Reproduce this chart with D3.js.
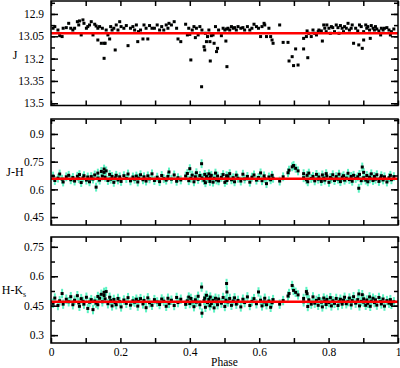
<!DOCTYPE html>
<html><head><meta charset="utf-8">
<script src="https://cdn.jsdelivr.net/npm/d3@7"></script>
<style>
body{margin:0;background:#fff;}
svg text{font-family:"Liberation Serif","DejaVu Serif",serif;}
</style></head>
<body><svg id="c" width="400" height="368"></svg>
<script>
const phase = [
0.006,0.011,0.020,0.025,0.032,0.035,0.044,0.051,0.057,0.063,
0.068,0.076,0.080,0.082,0.087,0.092,0.095,0.102,0.106,0.111,
0.116,0.121,0.126,0.130,0.135,0.135,0.140,0.145,0.148,0.153,
0.153,0.156,0.159,0.164,0.169,0.172,0.176,0.181,0.185,0.188,
0.193,0.198,0.202,0.210,0.217,0.222,0.229,0.236,0.241,0.246,
0.250,0.252,0.258,0.265,0.268,0.274,0.279,0.284,0.291,0.298,
0.306,0.313,0.319,0.325,0.332,0.337,0.340,0.347,0.355,0.362,
0.366,0.374,0.388,0.393,0.397,0.400,0.403,0.407,0.412,0.416,
0.419,0.424,0.429,0.434,0.435,0.441,0.443,0.445,0.448,0.451,
0.455,0.458,0.459,0.462,0.467,0.470,0.474,0.477,0.480,0.483,
0.491,0.496,0.501,0.504,0.506,0.507,0.510,0.515,0.520,0.525,
0.529,0.534,0.539,0.547,0.553,0.558,0.566,0.573,0.579,0.585,
0.592,0.598,0.604,0.608,0.614,0.616,0.621,0.628,0.633,0.637,
0.640,0.659,0.669,0.683,0.686,0.695,0.699,0.705,0.712,0.728,
0.728,0.736,0.738,0.740,0.743,0.750,0.755,0.760,0.765,0.770,
0.772,0.779,0.782,0.786,0.789,0.793,0.795,0.801,0.805,0.808,
0.812,0.817,0.822,0.827,0.830,0.834,0.839,0.843,0.846,0.851,
0.856,0.860,0.865,0.868,0.872,0.878,0.884,0.887,0.889,0.894,
0.897,0.901,0.901,0.907,0.910,0.913,0.918,0.920,0.923,0.928,
0.932,0.935,0.939,0.945,0.950,0.952,0.957,0.961,0.968,0.974,
0.978,0.981,0.988];

const jMag = [
12.996,12.985,13.008,13.046,13.052,12.996,12.992,12.963,12.996,13.008,
12.996,12.952,12.974,12.947,13.041,12.940,12.963,12.996,12.985,12.974,
12.952,13.041,12.969,12.981,12.996,13.075,12.985,13.097,12.996,13.097,
13.198,13.097,13.008,13.041,13.068,12.985,13.008,12.996,13.142,12.974,
13.008,12.952,12.985,12.996,12.978,13.113,12.996,12.985,13.008,12.974,
13.086,13.019,13.008,13.068,12.974,12.996,13.068,12.978,12.996,12.996,
12.974,13.008,12.985,13.008,12.974,12.996,12.963,12.974,12.952,12.996,
13.068,13.086,12.969,13.041,12.996,13.037,13.209,13.008,12.985,13.059,
12.996,13.041,12.985,13.389,13.008,13.120,13.142,13.030,13.086,13.052,
13.008,13.086,13.216,13.046,13.041,13.097,12.985,13.153,13.131,13.008,
13.046,12.996,13.008,13.082,13.001,13.254,12.996,13.008,12.985,12.996,
12.992,13.008,12.985,12.996,12.992,13.008,12.985,13.008,12.996,12.969,
12.985,12.996,13.052,12.985,12.963,12.974,13.052,12.996,13.052,13.075,
13.097,12.974,13.091,13.091,13.216,13.187,13.247,13.135,13.243,13.135,
13.064,13.052,13.014,13.194,13.030,13.052,13.008,13.030,13.041,13.019,
13.008,13.014,13.082,12.974,12.996,13.019,12.974,12.996,13.030,12.985,
12.992,13.019,12.974,12.992,13.030,12.978,12.996,13.019,12.985,12.996,
12.963,13.008,12.996,12.974,13.097,12.996,13.014,13.108,12.974,12.985,
13.131,13.019,13.075,12.974,12.996,12.985,13.008,13.064,12.978,12.996,
13.008,12.985,13.001,13.014,13.041,12.996,13.008,12.996,12.992,13.008,
13.041,13.019,13.001];

const jh = [
0.672,0.648,0.661,0.683,0.655,0.640,0.668,0.676,0.652,0.664,
0.645,0.671,0.658,0.680,0.637,0.662,0.674,0.650,0.667,0.641,
0.669,0.656,0.678,0.612,0.661,0.688,0.650,0.697,0.672,0.710,
0.692,0.666,0.700,0.648,0.681,0.655,0.670,0.638,0.662,0.676,
0.651,0.668,0.643,0.674,0.659,0.683,0.646,0.667,0.655,0.672,
0.640,0.661,0.679,0.652,0.668,0.645,0.673,0.657,0.684,0.648,
0.666,0.642,0.675,0.658,0.650,0.670,0.694,0.655,0.678,0.644,
0.663,0.651,0.672,0.686,0.647,0.712,0.660,0.677,0.641,0.668,
0.690,0.654,0.675,0.739,0.662,0.649,0.681,0.636,0.670,0.658,
0.684,0.643,0.667,0.676,0.639,0.660,0.688,0.651,0.672,0.646,
0.665,0.680,0.638,0.657,0.674,0.648,0.669,0.685,0.652,0.663,
0.641,0.677,0.660,0.645,0.682,0.656,0.670,0.639,0.666,0.678,
0.650,0.664,0.689,0.647,0.673,0.658,0.631,0.667,0.652,0.676,
0.660,0.645,0.668,0.690,0.704,0.722,0.729,0.714,0.700,0.685,
0.663,0.652,0.676,0.641,0.688,0.659,0.670,0.646,0.681,0.655,
0.667,0.643,0.678,0.661,0.650,0.685,0.672,0.638,0.664,0.657,
0.679,0.648,0.669,0.655,0.682,0.642,0.666,0.674,0.650,0.661,
0.687,0.653,0.670,0.644,0.676,0.659,0.668,0.606,0.681,0.647,
0.721,0.663,0.692,0.650,0.675,0.641,0.666,0.657,0.684,0.648,
0.670,0.655,0.679,0.643,0.662,0.674,0.651,0.668,0.640,0.663,
0.676,0.652,0.669];

const hk = [
0.462,0.489,0.451,0.475,0.512,0.458,0.483,0.470,0.496,0.455,
0.478,0.501,0.464,0.447,0.486,0.472,0.458,0.493,0.436,0.468,
0.481,0.430,0.474,0.463,0.497,0.455,0.488,0.508,0.470,0.518,
0.502,0.485,0.522,0.460,0.493,0.476,0.449,0.482,0.466,0.455,
0.487,0.471,0.444,0.479,0.462,0.491,0.453,0.475,0.468,0.483,
0.448,0.472,0.486,0.459,0.477,0.440,0.490,0.465,0.452,0.481,
0.469,0.456,0.484,0.473,0.447,0.488,0.462,0.478,0.451,0.492,
0.466,0.483,0.457,0.475,0.494,0.461,0.487,0.470,0.445,0.480,
0.468,0.498,0.455,0.545,0.412,0.476,0.489,0.442,0.503,0.466,
0.482,0.450,0.494,0.461,0.477,0.439,0.488,0.470,0.455,0.484,
0.463,0.492,0.446,0.478,0.563,0.520,0.469,0.487,0.452,0.474,
0.490,0.458,0.477,0.444,0.483,0.466,0.495,0.451,0.472,0.486,
0.460,0.520,0.478,0.449,0.469,0.488,0.455,0.474,0.442,0.465,
0.481,0.458,0.476,0.499,0.512,0.553,0.528,0.518,0.505,0.487,
0.470,0.522,0.511,0.446,0.480,0.458,0.495,0.463,0.477,0.452,
0.486,0.468,0.444,0.489,0.473,0.456,0.482,0.466,0.491,0.449,
0.475,0.462,0.487,0.451,0.470,0.483,0.458,0.478,0.493,0.460,
0.471,0.489,0.454,0.476,0.496,0.463,0.481,0.510,0.449,0.472,
0.506,0.468,0.485,0.452,0.479,0.462,0.495,0.447,0.473,0.488,
0.466,0.480,0.453,0.492,0.471,0.459,0.484,0.448,0.476,0.463,
0.481,0.457,0.470];

const jMean = 13.03, jhMean = 0.658, hkMean = 0.470;
const errJ = 0.006, errJH = 0.024, errHK = 0.024;
const jTicks = [12.9, 13.05, 13.2, 13.35, 13.5];
const jhTicks = [0.45, 0.6, 0.75, 0.9];
const hkTicks = [0.3, 0.45, 0.6, 0.75];
const xTicks = [0, 0.2, 0.4, 0.6, 0.8, 1];

const svg = d3.select("#c");
const x = d3.scaleLinear().domain([0, 1]).range([51, 398]);

const panels = [
  {vals: jMag, err: errJ, mean: jMean, ticks: jTicks, label: "J",
   y: d3.scaleLinear().domain([12.813, 13.515]).range([1, 105.5]), labelY: 59},
  {vals: jh, err: errJH, mean: jhMean, ticks: jhTicks, label: "J-H",
   y: d3.scaleLinear().domain([0.981, 0.407]).range([119, 225]), labelY: 176},
  {vals: hk, err: errHK, mean: hkMean, ticks: hkTicks, label: "H-K",
   y: d3.scaleLinear().domain([0.80, 0.26]).range([237, 343]), labelY: 294}
];

const xMinor = d3.range(0, 1.0001, 0.1);

panels.forEach((p, i) => {
  const y = p.y;
  const [y0, y1] = y.range();
  const g = svg.append("g");
  const step = p.ticks[1] - p.ticks[0];
  const minor = [];
  const d0 = Math.min(...y.domain()), d1 = Math.max(...y.domain());
  for (let v = p.ticks[0] - step; v <= d1 + 1e-9; v += step / 2) {
    if (v >= d0 && v <= d1) minor.push(+v.toFixed(4));
  }
  g.append("g").selectAll("line").data(phase).join("line")
    .attr("x1", d => x(d)).attr("x2", d => x(d))
    .attr("y1", (d, k) => y(p.vals[k] - p.err)).attr("y2", (d, k) => y(p.vals[k] + p.err))
    .attr("stroke", "#5cf2c2").attr("stroke-width", 2);
  g.append("g").selectAll("rect").data(phase).join("rect")
    .attr("x", d => x(d) - 1.5).attr("y", (d, k) => y(p.vals[k]) - 1.5)
    .attr("width", 3).attr("height", 3).attr("fill", "#000");
  g.append("line").attr("x1", x(0)).attr("x2", x(1))
    .attr("y1", y(p.mean)).attr("y2", y(p.mean))
    .attr("stroke", "#ff0000").attr("stroke-width", 2.5);

  g.append("g").attr("transform", `translate(${x(0)},0)`)
    .call(d3.axisLeft(y).tickValues(minor).tickSize(-4).tickFormat(""));
  g.append("g").attr("transform", `translate(${x(0)},0)`)
    .call(d3.axisLeft(y).tickValues(p.ticks).tickSize(-7).tickPadding(7).tickFormat(d3.format("")));
  g.append("g").attr("transform", `translate(${x(1)},0)`)
    .call(d3.axisRight(y).tickValues(minor).tickSize(-4).tickFormat(""));
  g.append("g").attr("transform", `translate(${x(1)},0)`)
    .call(d3.axisRight(y).tickValues(p.ticks).tickSize(-7).tickFormat(""));
  g.append("g").attr("transform", `translate(0,${y1})`)
    .call(d3.axisBottom(x).tickValues(xMinor).tickSize(-5).tickFormat(""));
  g.append("g").attr("transform", `translate(0,${y0})`)
    .call(d3.axisTop(x).tickValues(xMinor).tickSize(-5).tickFormat(""));
  if (i === 2) {
    g.append("g").attr("transform", `translate(0,${y1})`)
      .call(d3.axisBottom(x).tickValues(xTicks).tickSize(0).tickPadding(5).tickFormat(d3.format("")))
      .call(a => a.select(".domain").remove());
  }
  g.selectAll(".domain").remove();
  g.selectAll(".tick line").attr("stroke", "#000").attr("stroke-width", 1.5);
  g.selectAll(".tick text").attr("font-size", 11.5).attr("fill", "#000")
    .style("font-family", '"Liberation Serif", serif');

  g.append("rect").attr("x", x(0)).attr("y", y0).attr("width", x(1) - x(0)).attr("height", y1 - y0)
    .attr("fill", "none").attr("stroke", "#000").attr("stroke-width", 1.5);

  const t = g.append("text").attr("x", i === 2 ? 14 : 15).attr("y", p.labelY)
    .attr("text-anchor", "middle").attr("font-size", 12).text(p.label);
  if (i === 2) t.append("tspan").attr("font-size", 8).attr("dy", 3).text("s");
});

svg.append("text").attr("x", x(0.5)).attr("y", 366).attr("text-anchor", "middle")
  .attr("font-size", 11.5).text("Phase");
</script>
</body></html>
